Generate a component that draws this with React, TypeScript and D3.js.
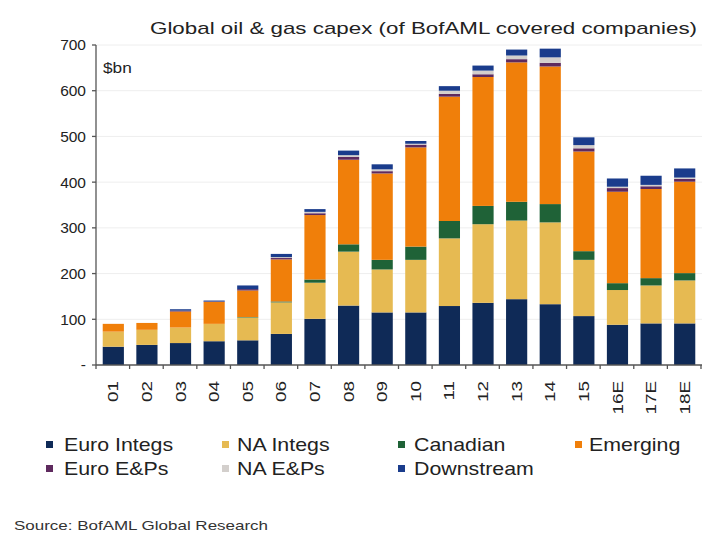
import React from "react";
import * as d3 from "d3";

const categories = ["01","02","03","04","05","06","07","08","09","10","11","12","13","14","15","16E","17E","18E"];
const euroIntegs = [40,44,48,52,54,68,101,130,115,115,129,136,144,133,107,88,91,91];
const naIntegs = [33,33,34,38,50,69,79,118,94,115,148,172,172,179,123,76,83,94];
const canadian = [0,0,0,0,1,2,7,16,21,29,38,40,41,40,19,15,16,16];
const emerging = [17,15,35,48,58,92,141,185,189,217,272,282,305,301,218,200,195,200];
const euroEPs = [0,0,2,1,3,3,4,6,5,6,6,6,7,8,7,8,6,6];
const naEPs = [0,0,0,0,0,2,3,4,4,2,7,8,8,12,7,3,3,3];
const downstream = [0,0,3,2,8,7,6,10,11,6,10,11,13,19,17,18,20,20];
const yTicks = [0,100,200,300,400,500,600,700];

const seriesNames = ["Euro Integs","NA Integs","Canadian","Emerging","Euro E&Ps","NA E&Ps","Downstream"];
const seriesValues = [euroIntegs, naIntegs, canadian, emerging, euroEPs, naEPs, downstream];
const colors = ["#0f2a57","#e6ba52","#1f6237","#f07f0a","#5e2a5e","#d3cfcc","#1a3c8c"];

export default function App() {
  const W = 723, H = 548;
  const x0 = 96, x1 = 702, yTop = 45, yBot = 365;
  const x = d3.scaleBand<string>().domain(categories).range([x0, x1]).paddingInner(0.37).paddingOuter(0.2);
  const y = d3.scaleLinear().domain([0, 700]).range([yBot, yTop]);
  const rows = categories.map((c, i) => {
    const r: any = { cat: c };
    seriesNames.forEach((s, k) => (r[s] = seriesValues[k][i]));
    return r;
  });
  const stacked = d3.stack<any>().keys(seriesNames)(rows);
  const step = x.step();
  const font = "'Liberation Sans', Arial, sans-serif";
  const legendSq = [
    [46, 445], [222, 445], [398, 445], [575, 445],
    [46, 469], [222, 469], [398, 469],
  ];
  const legendTx = [64, 237, 414, 589, 64, 237, 414];
  return (
    <svg width={W} height={H} style={{ position: "absolute", left: 0, top: 0, background: "#fff" }} fontFamily={font}>
      <text x={150} y={34} fontSize={17} fill="#222" textLength={547} lengthAdjust="spacingAndGlyphs">Global oil &amp; gas capex (of BofAML covered companies)</text>
      {yTicks.filter(t => t > 0).map(t => (
        <line key={"g" + t} x1={x0} x2={x1} y1={y(t)} y2={y(t)} stroke="#eeeeee" strokeWidth={1} />
      ))}
      {stacked.map((layer, k) => (
        <g key={layer.key} fill={colors[k]}>
          {layer.map((d, i) => (
            d[1] - d[0] > 0 ? (
              <rect key={i} x={x(categories[i])} width={x.bandwidth()} y={y(d[1])} height={y(d[0]) - y(d[1])} />
            ) : null
          ))}
        </g>
      ))}
      <line x1={x0} x2={x0} y1={yTop} y2={yBot} stroke="#555" strokeWidth={1.3} />
      <line x1={x0} x2={x1} y1={yBot} y2={yBot} stroke="#555" strokeWidth={1.3} />
      {yTicks.map(t => (
        <g key={"t" + t}>
          <line x1={x0 - 4} x2={x0} y1={y(t)} y2={y(t)} stroke="#555" strokeWidth={1.3} />
          <text x={86} y={y(t)} dy="0.35em" textAnchor="end" fontSize={15.5} fill="#222">{t === 0 ? "-" : t}</text>
        </g>
      ))}
      {d3.range(categories.length + 1).map(i => (
        <line key={"xt" + i} x1={x0 + i * step} x2={x0 + i * step} y1={yBot} y2={yBot + 4} stroke="#555" strokeWidth={1.3} />
      ))}
      {categories.map(c => {
        const cx = (x(c) as number) + x.bandwidth() / 2;
        return (
          <text key={"xl" + c} transform={`translate(${cx},${yBot + 16}) rotate(-90) scale(1.3,1)`} textAnchor="end" dy="0.35em" fontSize={14.5} fill="#222">{c}</text>
        );
      })}
      <text transform="translate(103,73) scale(1.15,1)" fontSize={15} fill="#222">$bn</text>
      {seriesNames.map((s, k) => (
        <g key={"lg" + s}>
          <rect x={legendSq[k][0]} y={legendSq[k][1] - 4} width={7} height={7} fill={colors[k]} />
          <text transform={`translate(${legendTx[k]},${legendSq[k][1] + 6}) scale(1.22,1)`} fontSize={17.5} fill="#222">{s}</text>
        </g>
      ))}
      <text x={14} y={530} fontSize={13.5} fill="#333" textLength={254} lengthAdjust="spacingAndGlyphs">Source: BofAML Global Research</text>
    </svg>
  );
}
